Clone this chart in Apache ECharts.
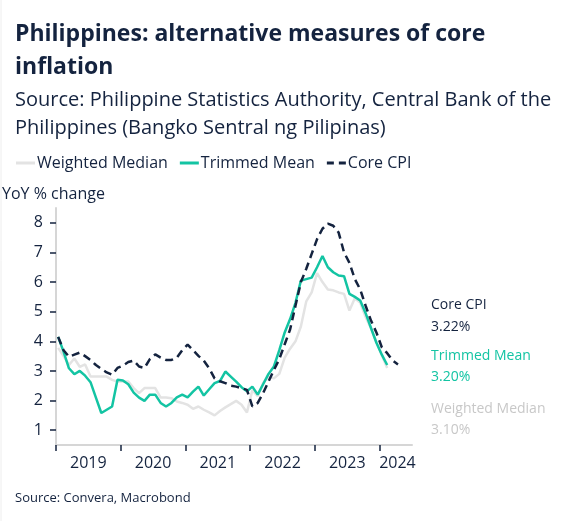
<!DOCTYPE html>
<html>
<head>
<meta charset="utf-8">
<script src="https://cdn.jsdelivr.net/npm/echarts@6/dist/echarts.min.js"></script>
<style>
html,body{margin:0;padding:0;background:#fff;}
#chart{width:567px;height:521px;}
</style>
</head>
<body>
<div id="chart"></div>
<script>
// Monthly values, first value = Jan 2019
const weightedMedian = [3.78,3.5,3.2,3.42,3.14,3.22,2.81,2.81,2.81,2.81,2.7,2.64,2.64,2.64,2.42,2.25,2.42,2.42,2.42,2.1,
  2.1,2.08,1.97,1.92,1.86,1.72,1.8,1.69,1.6,1.5,1.65,1.77,1.88,1.99,1.86,1.6,2.35,2.15,2.6,2.8,
  2.75,2.9,3.45,3.75,4.0,4.5,5.35,5.65,6.3,6.0,5.75,5.72,5.65,5.6,5.04,5.45,5.3,4.82,4.43,3.98,
  3.54,3.1];
const trimmedMean = [4.15,3.65,3.09,2.89,3.0,2.84,2.62,2.1,1.58,1.69,1.8,2.7,2.68,2.55,2.27,2.1,1.99,2.2,2.2,1.92,
  1.8,1.92,2.11,2.2,2.11,2.3,2.47,2.17,2.38,2.59,2.66,2.98,2.81,2.64,2.45,2.31,2.47,2.2,2.55,2.9,
  3.15,3.7,4.3,4.75,5.3,6.05,6.1,6.15,6.5,6.88,6.5,6.33,6.22,6.2,5.6,5.5,5.38,4.95,4.45,3.95,
  3.55,3.2];
const coreCPI = [4.15,3.7,3.48,3.55,3.62,3.5,3.37,3.2,3.07,2.95,2.87,3.1,3.18,3.3,3.35,3.15,3.1,3.4,3.56,3.45,
  3.37,3.37,3.45,3.7,3.89,3.7,3.51,3.35,3.09,2.75,2.65,2.59,2.5,2.47,2.42,2.36,1.8,1.92,2.25,2.64,
  3.03,3.4,3.9,4.4,5.2,6.0,6.45,6.95,7.45,7.8,7.97,7.9,7.67,7.0,6.65,6.1,5.75,5.2,4.7,4.3,
  3.8,3.6,3.35,3.22];
const yearLabels = ['2019','2020','2021','2022','2023','2024'];
const yTicks = [1,2,3,4,5,6,7,8];
const lastValues = {core:'3.22%', trimmed:'3.20%', weighted:'3.10%'};

const NAVY = '#14233f';
const TEAL = '#13c4a3';
const GREY = '#e3e3e3';
const FONT = 'Open Sans';

const toPts = arr => arr.map((v,i)=>[i+0.4, v]);
const tickPos = yearLabels.map((_,i)=>i*12);
const labelPos = yearLabels.map((_,i)=> i<5 ? i*12+6 : i*12+3.3);

const chart = echarts.init(document.getElementById('chart'), null, {renderer:'canvas'});
chart.setOption({
  animation:false,
  backgroundColor:'#fff',
  textStyle:{fontFamily:FONT},
  title:[
    {text:'Philippines: alternative measures of core\ninflation', left:10, top:13,
     textStyle:{fontFamily:FONT,fontSize:23,fontWeight:'bold',color:NAVY,lineHeight:33}},
    {text:'Source: Philippine Statistics Authority, Central Bank of the\nPhilippines (Bangko Sentral ng Pilipinas)', left:10, top:81,
     textStyle:{fontFamily:FONT,fontSize:20,fontWeight:'normal',color:NAVY,lineHeight:28}},
    {text:'Source: Convera, Macrobond', left:10, top:487,
     textStyle:{fontFamily:FONT,fontSize:13,fontWeight:'normal',color:NAVY}}
  ],
  legend:{
    left:11, top:150, itemWidth:19, itemHeight:3, itemGap:12,
    textStyle:{fontFamily:FONT,fontSize:16,color:NAVY,padding:[0,0,0,-3]},
    data:[
      {name:'Weighted Median',icon:'rect',itemStyle:{color:GREY}},
      {name:'Trimmed Mean',icon:'rect',itemStyle:{color:TEAL}},
      {name:'Core CPI',icon:'path://M0,0h7v3h-7z M12,0h7v3h-7z',itemStyle:{color:NAVY}}
    ]
  },
  grid:{left:56, right:155, top:208, bottom:76, containLabel:false},
  xAxis:{
    type:'value', min:0, max:66,
    axisLine:{show:true,lineStyle:{color:'#d6d6d6',width:2}},
    axisTick:{show:true,customValues:tickPos,length:6,lineStyle:{color:NAVY,width:1.5}},
    axisLabel:{customValues:labelPos,margin:10,fontSize:16,color:NAVY,fontFamily:FONT,
      formatter:v=>yearLabels[Math.floor(v/12)]},
    splitLine:{show:false}
  },
  yAxis:{
    type:'value', min:0.5, max:8.5,
    axisLine:{show:true,lineStyle:{color:'#d6d6d6',width:2}},
    axisTick:{show:true,customValues:yTicks,length:6,lineStyle:{color:NAVY,width:1.5}},
    axisLabel:{customValues:yTicks,margin:13,fontSize:16,color:NAVY,fontFamily:FONT},
    splitLine:{show:false}
  },
  series:[
    {name:'Weighted Median',type:'line',data:toPts(weightedMedian),symbol:'none',
     lineStyle:{color:GREY,width:2.5},itemStyle:{color:GREY}},
    {name:'Trimmed Mean',type:'line',data:toPts(trimmedMean),symbol:'none',
     lineStyle:{color:TEAL,width:2.5},itemStyle:{color:TEAL}},
    {name:'Core CPI',type:'line',data:toPts(coreCPI),symbol:'none',
     lineStyle:{color:NAVY,width:2.5,type:[8,5]},itemStyle:{color:NAVY}}
  ],
  graphic:[
    {type:'line',shape:{x1:1,y1:0,x2:1,y2:521},style:{stroke:'#eeeeee',lineWidth:1},silent:true},
    {type:'text',left:2,top:186,style:{text:'YoY % change',font:'16px "Open Sans"',fill:NAVY}},
    {type:'text',left:431,top:294,style:{text:'Core CPI\n'+lastValues.core,font:'14px "Open Sans"',fill:NAVY,lineHeight:22}},
    {type:'text',left:431,top:346,style:{text:'Trimmed Mean\n'+lastValues.trimmed,font:'14px "Open Sans"',fill:TEAL,lineHeight:21}},
    {type:'text',left:431,top:399,style:{text:'Weighted Median\n'+lastValues.weighted,font:'14px "Open Sans"',fill:'#c8c8c8',lineHeight:21}}
  ]
});
</script>
</body>
</html>
